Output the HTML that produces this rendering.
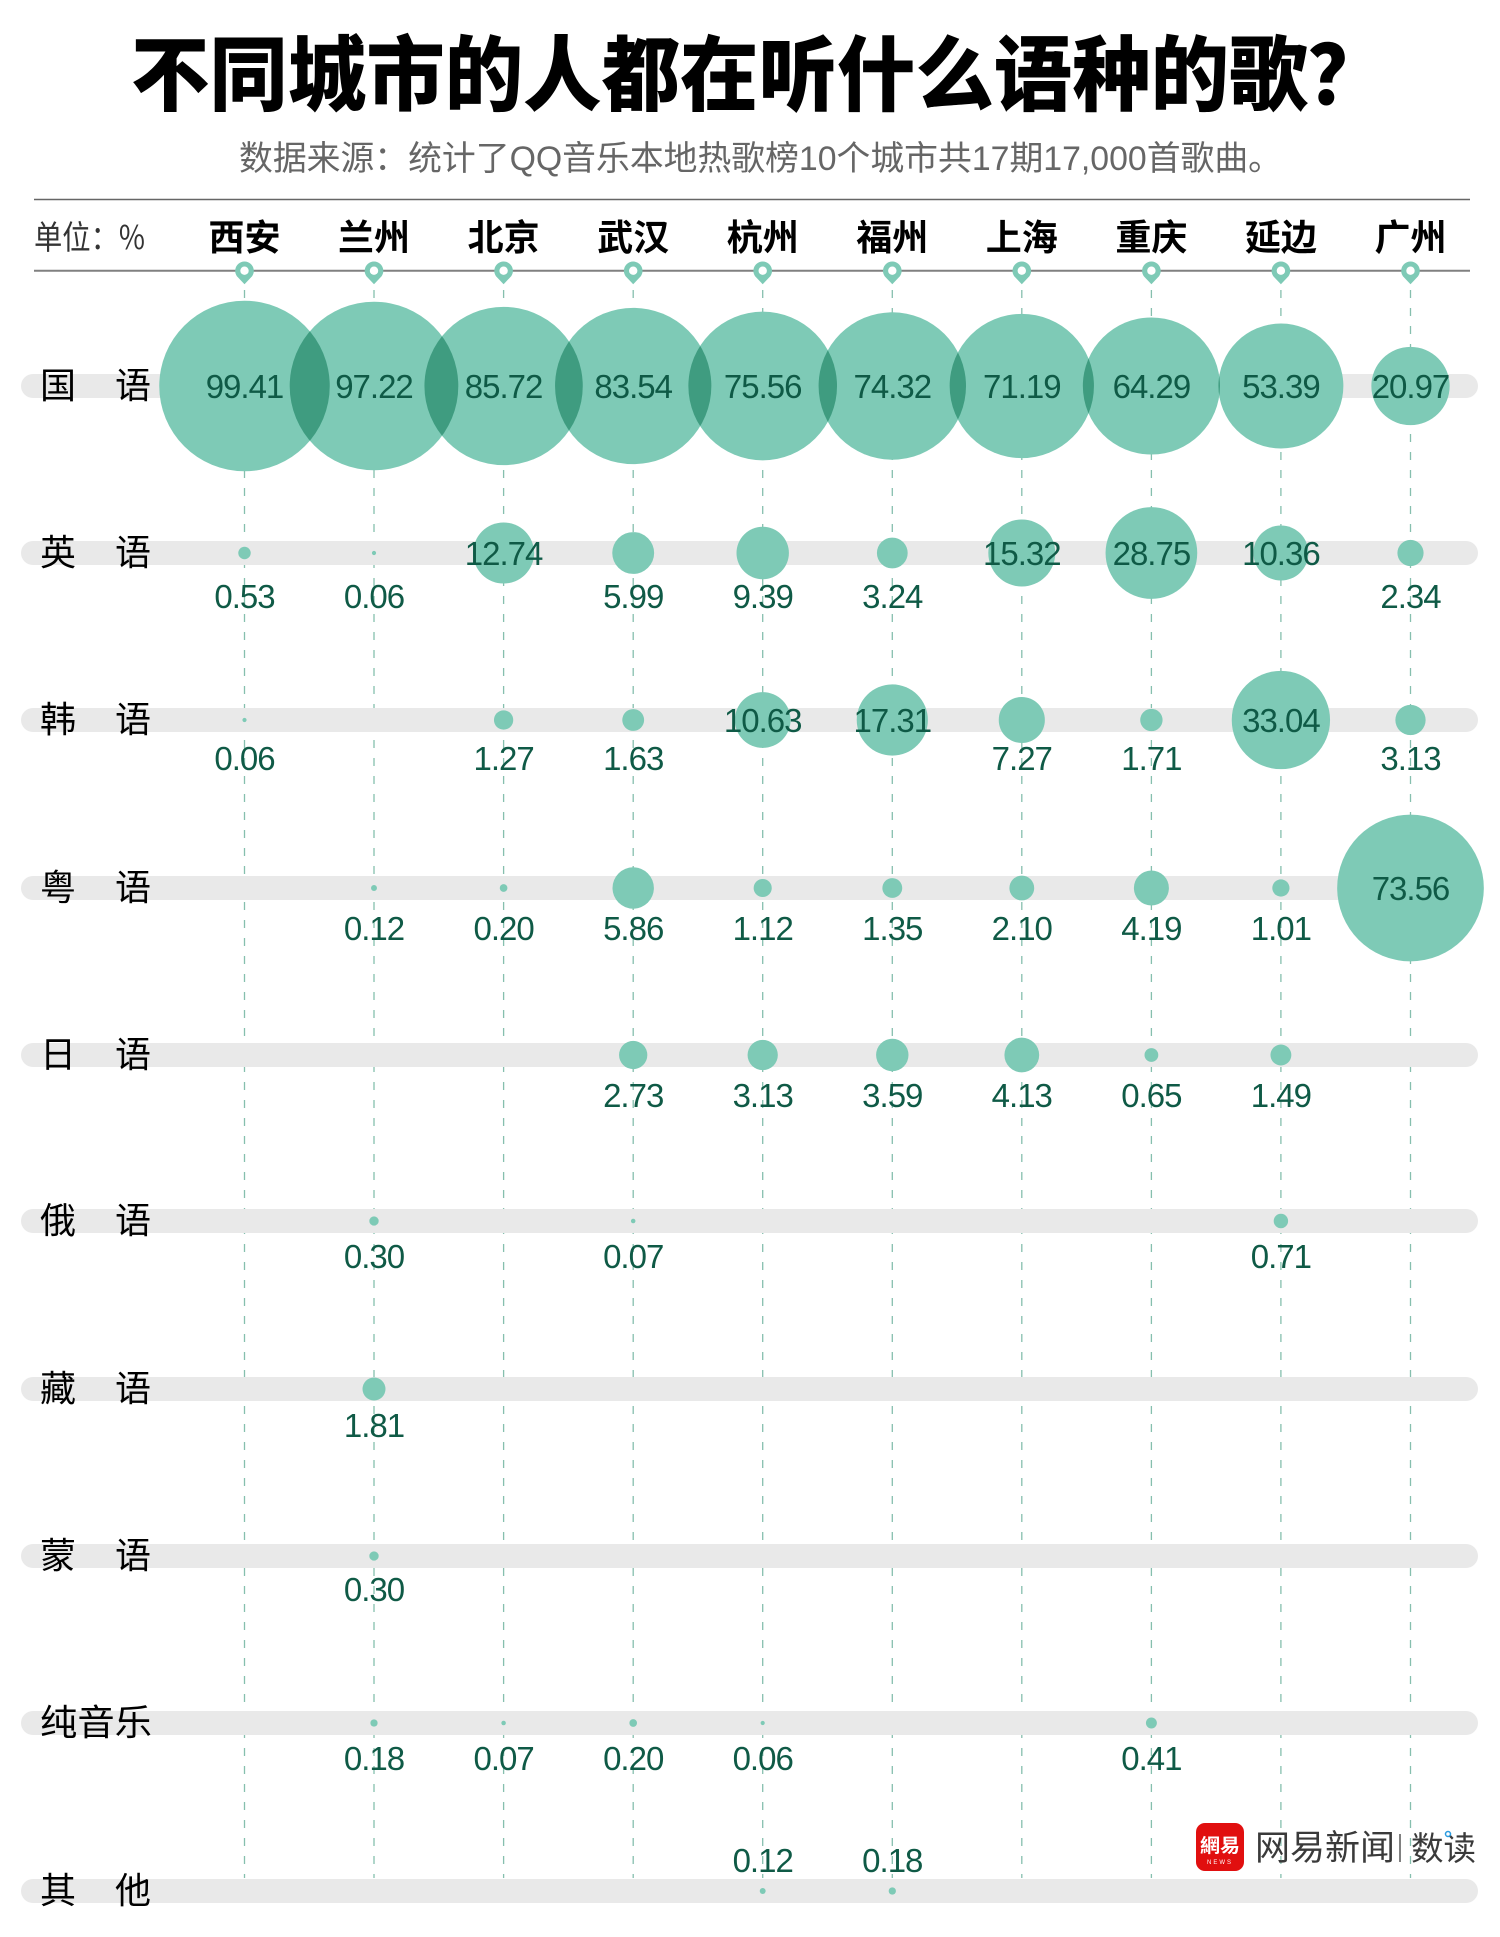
<!DOCTYPE html>
<html><head><meta charset="utf-8"><style>
html,body{margin:0;padding:0;background:#fff;}
svg{display:block;}
.cj{font-family:"Noto Sans CJK SC","WenQuanYi Zen Hei",sans-serif;}
.num{font-family:"Liberation Sans",sans-serif;font-size:33px;fill:#0f5a46;letter-spacing:-1px;text-anchor:middle;}
.city{font-family:"Noto Sans CJK SC","WenQuanYi Zen Hei",sans-serif;font-size:36px;font-weight:700;fill:#000;text-anchor:middle;}
.rl{font-family:"Noto Sans CJK SC","WenQuanYi Zen Hei",sans-serif;font-size:36px;fill:#000;}
</style></head><body>
<svg width="1500" height="1937" viewBox="0 0 1500 1937" xmlns="http://www.w3.org/2000/svg">
<rect x="0" y="0" width="1500" height="1937" fill="#fff"/>

<!-- Title -->
<text class="cj" x="131" y="104" font-size="82" font-weight="900" fill="#000" textLength="1255" lengthAdjust="spacingAndGlyphs">不同城市的人都在听什么语种的歌？</text>
<text x="239" y="170" font-family="Liberation Sans, Noto Sans CJK SC, sans-serif" font-size="34" fill="#666" textLength="1043" lengthAdjust="spacingAndGlyphs">数据来源：统计了QQ音乐本地热歌榜10个城市共17期17,000首歌曲。</text>

<!-- header lines -->
<line x1="34" y1="199.5" x2="1470" y2="199.5" stroke="#666" stroke-width="1.5"/>
<line x1="34" y1="270.7" x2="1470" y2="270.7" stroke="#808080" stroke-width="2"/>
<text class="cj" x="34" y="249" font-size="33" fill="#333" textLength="111" lengthAdjust="spacingAndGlyphs">单位：%</text>

<g>
<text class="city" x="244.5" y="250">西安</text>
<text class="city" x="374" y="250">兰州</text>
<text class="city" x="503.6" y="250">北京</text>
<text class="city" x="633.2" y="250">武汉</text>
<text class="city" x="762.7" y="250">杭州</text>
<text class="city" x="892.3" y="250">福州</text>
<text class="city" x="1021.8" y="250">上海</text>
<text class="city" x="1151.4" y="250">重庆</text>
<text class="city" x="1280.9" y="250">延边</text>
<text class="city" x="1410.5" y="250">广州</text>
</g>

<!-- pins -->
<defs>
<g id="pin">
<path d="M0,284.3 L-7.6,276.2 A9.3,9.3 0 1 1 7.6,276.2 Z" fill="#7ecab6"/>
<circle cx="0" cy="270.7" r="4.2" fill="#fff"/>
</g>
</defs>
<use href="#pin" x="244.5"/>
<use href="#pin" x="374"/>
<use href="#pin" x="503.6"/>
<use href="#pin" x="633.2"/>
<use href="#pin" x="762.7"/>
<use href="#pin" x="892.3"/>
<use href="#pin" x="1021.8"/>
<use href="#pin" x="1151.4"/>
<use href="#pin" x="1280.9"/>
<use href="#pin" x="1410.5"/>

<!-- dashed lines -->
<g stroke="#86bfae" stroke-width="1.3" stroke-dasharray="8 10">
<line x1="244.5" y1="290" x2="244.5" y2="1878"/>
<line x1="374" y1="290" x2="374" y2="1878"/>
<line x1="503.6" y1="290" x2="503.6" y2="1878"/>
<line x1="633.2" y1="290" x2="633.2" y2="1878"/>
<line x1="762.7" y1="290" x2="762.7" y2="1878"/>
<line x1="892.3" y1="290" x2="892.3" y2="1878"/>
<line x1="1021.8" y1="290" x2="1021.8" y2="1878"/>
<line x1="1151.4" y1="290" x2="1151.4" y2="1878"/>
<line x1="1280.9" y1="290" x2="1280.9" y2="1878"/>
<line x1="1410.5" y1="290" x2="1410.5" y2="1878"/>
</g>

<!-- bars -->
<g fill="#e9e9e9">
<rect x="21" y="374" width="1457" height="24" rx="12"/>
<rect x="21" y="541" width="1457" height="24" rx="12"/>
<rect x="21" y="708" width="1457" height="24" rx="12"/>
<rect x="21" y="876" width="1457" height="24" rx="12"/>
<rect x="21" y="1043" width="1457" height="24" rx="12"/>
<rect x="21" y="1209" width="1457" height="24" rx="12"/>
<rect x="21" y="1377" width="1457" height="24" rx="12"/>
<rect x="21" y="1544" width="1457" height="24" rx="12"/>
<rect x="21" y="1711" width="1457" height="24" rx="12"/>
<rect x="21" y="1879" width="1457" height="24" rx="12"/>
</g>

<!-- row labels -->
<g>
<text class="rl" x="40" y="398">国</text><text class="rl" x="115" y="398">语</text>
<text class="rl" x="40" y="565">英</text><text class="rl" x="115" y="565">语</text>
<text class="rl" x="40" y="732">韩</text><text class="rl" x="115" y="732">语</text>
<text class="rl" x="40" y="900">粤</text><text class="rl" x="115" y="900">语</text>
<text class="rl" x="40" y="1067">日</text><text class="rl" x="115" y="1067">语</text>
<text class="rl" x="40" y="1233">俄</text><text class="rl" x="115" y="1233">语</text>
<text class="rl" x="40" y="1401">藏</text><text class="rl" x="115" y="1401">语</text>
<text class="rl" x="40" y="1568">蒙</text><text class="rl" x="115" y="1568">语</text>
<text class="rl" x="40" y="1735" textLength="112" lengthAdjust="spacingAndGlyphs">纯音乐</text>
<text class="rl" x="40" y="1903">其</text><text class="rl" x="115" y="1903">他</text>
</g>

<!-- circles -->
<defs>
<clipPath id="k0"><circle cx="244.5" cy="386" r="85.25"/></clipPath>
<clipPath id="k1"><circle cx="374" cy="386" r="84.30"/></clipPath>
<clipPath id="k2"><circle cx="503.6" cy="386" r="79.16"/></clipPath>
<clipPath id="k3"><circle cx="633.2" cy="386" r="78.15"/></clipPath>
<clipPath id="k4"><circle cx="762.7" cy="386" r="74.32"/></clipPath>
<clipPath id="k5"><circle cx="892.3" cy="386" r="73.71"/></clipPath>
<clipPath id="k6"><circle cx="1021.8" cy="386" r="72.14"/></clipPath>
<clipPath id="k7"><circle cx="1151.4" cy="386" r="68.55"/></clipPath>
</defs>
<g fill="#7ecab6">
<!-- row 0 -->
<circle cx="244.5" cy="386" r="85.25"/>
<circle cx="374" cy="386" r="84.30"/>
<circle cx="503.6" cy="386" r="79.16"/>
<circle cx="633.2" cy="386" r="78.15"/>
<circle cx="762.7" cy="386" r="74.32"/>
<circle cx="892.3" cy="386" r="73.71"/>
<circle cx="1021.8" cy="386" r="72.14"/>
<circle cx="1151.4" cy="386" r="68.55"/>
<circle cx="1280.9" cy="386" r="62.47"/>
<circle cx="1410.5" cy="386" r="39.15"/>
<!-- row 1 -->
<circle cx="244.5" cy="553" r="6.22"/>
<circle cx="374" cy="553" r="2.09"/>
<circle cx="503.6" cy="553" r="30.52"/>
<circle cx="633.2" cy="553" r="20.93"/>
<circle cx="762.7" cy="553" r="26.20"/>
<circle cx="892.3" cy="553" r="15.39"/>
<circle cx="1021.8" cy="553" r="33.47"/>
<circle cx="1151.4" cy="553" r="45.84"/>
<circle cx="1280.9" cy="553" r="27.52"/>
<circle cx="1410.5" cy="553" r="13.08"/>
<!-- row 2 -->
<circle cx="244.5" cy="720" r="2.09"/>
<circle cx="503.6" cy="720" r="9.64"/>
<circle cx="633.2" cy="720" r="10.92"/>
<circle cx="762.7" cy="720" r="27.88"/>
<circle cx="892.3" cy="720" r="35.57"/>
<circle cx="1021.8" cy="720" r="23.05"/>
<circle cx="1151.4" cy="720" r="11.18"/>
<circle cx="1280.9" cy="720" r="49.15"/>
<circle cx="1410.5" cy="720" r="15.13"/>
<!-- row 3 -->
<circle cx="374" cy="888" r="2.96"/>
<circle cx="503.6" cy="888" r="3.82"/>
<circle cx="633.2" cy="888" r="20.70"/>
<circle cx="762.7" cy="888" r="9.05"/>
<circle cx="892.3" cy="888" r="9.93"/>
<circle cx="1021.8" cy="888" r="12.39"/>
<circle cx="1151.4" cy="888" r="17.50"/>
<circle cx="1280.9" cy="888" r="8.59"/>
<circle cx="1410.5" cy="888" r="73.33"/>
<!-- row 4 -->
<circle cx="633.2" cy="1055" r="14.13"/>
<circle cx="762.7" cy="1055" r="15.13"/>
<circle cx="892.3" cy="1055" r="16.20"/>
<circle cx="1021.8" cy="1055" r="17.38"/>
<circle cx="1151.4" cy="1055" r="6.89"/>
<circle cx="1280.9" cy="1055" r="10.44"/>
<!-- row 5 -->
<circle cx="374" cy="1221" r="4.68"/>
<circle cx="633.2" cy="1221" r="2.26"/>
<circle cx="1280.9" cy="1221" r="7.20"/>
<!-- row 6 -->
<circle cx="374" cy="1389" r="11.50"/>
<!-- row 7 -->
<circle cx="374" cy="1556" r="4.68"/>
<!-- row 8 -->
<circle cx="374" cy="1723" r="3.63"/>
<circle cx="503.6" cy="1723" r="2.26"/>
<circle cx="633.2" cy="1723" r="3.82"/>
<circle cx="762.7" cy="1723" r="2.09"/>
<circle cx="1151.4" cy="1723" r="5.47"/>
<!-- row 9 -->
<circle cx="762.7" cy="1891" r="2.96"/>
<circle cx="892.3" cy="1891" r="3.63"/>
</g>
<!-- overlap lenses -->
<g fill="#3f9c80">
<circle cx="374" cy="386" r="84.30" clip-path="url(#k0)"/>
<circle cx="503.6" cy="386" r="79.16" clip-path="url(#k1)"/>
<circle cx="633.2" cy="386" r="78.15" clip-path="url(#k2)"/>
<circle cx="762.7" cy="386" r="74.32" clip-path="url(#k3)"/>
<circle cx="892.3" cy="386" r="73.71" clip-path="url(#k4)"/>
<circle cx="1021.8" cy="386" r="72.14" clip-path="url(#k5)"/>
<circle cx="1151.4" cy="386" r="68.55" clip-path="url(#k6)"/>
<circle cx="1280.9" cy="386" r="62.47" clip-path="url(#k7)"/>
</g>

<!-- numbers -->
<g>
<!-- row 0 inside -->
<text class="num" x="244.5" y="398">99.41</text>
<text class="num" x="374" y="398">97.22</text>
<text class="num" x="503.6" y="398">85.72</text>
<text class="num" x="633.2" y="398">83.54</text>
<text class="num" x="762.7" y="398">75.56</text>
<text class="num" x="892.3" y="398">74.32</text>
<text class="num" x="1021.8" y="398">71.19</text>
<text class="num" x="1151.4" y="398">64.29</text>
<text class="num" x="1280.9" y="398">53.39</text>
<text class="num" x="1410.5" y="398">20.97</text>
<!-- row 1 -->
<text class="num" x="244.5" y="608">0.53</text>
<text class="num" x="374" y="608">0.06</text>
<text class="num" x="503.6" y="565">12.74</text>
<text class="num" x="633.2" y="608">5.99</text>
<text class="num" x="762.7" y="608">9.39</text>
<text class="num" x="892.3" y="608">3.24</text>
<text class="num" x="1021.8" y="565">15.32</text>
<text class="num" x="1151.4" y="565">28.75</text>
<text class="num" x="1280.9" y="565">10.36</text>
<text class="num" x="1410.5" y="608">2.34</text>
<!-- row 2 -->
<text class="num" x="244.5" y="770">0.06</text>
<text class="num" x="503.6" y="770">1.27</text>
<text class="num" x="633.2" y="770">1.63</text>
<text class="num" x="762.7" y="732">10.63</text>
<text class="num" x="892.3" y="732">17.31</text>
<text class="num" x="1021.8" y="770">7.27</text>
<text class="num" x="1151.4" y="770">1.71</text>
<text class="num" x="1280.9" y="732">33.04</text>
<text class="num" x="1410.5" y="770">3.13</text>
<!-- row 3 -->
<text class="num" x="374" y="940">0.12</text>
<text class="num" x="503.6" y="940">0.20</text>
<text class="num" x="633.2" y="940">5.86</text>
<text class="num" x="762.7" y="940">1.12</text>
<text class="num" x="892.3" y="940">1.35</text>
<text class="num" x="1021.8" y="940">2.10</text>
<text class="num" x="1151.4" y="940">4.19</text>
<text class="num" x="1280.9" y="940">1.01</text>
<text class="num" x="1410.5" y="900">73.56</text>
<!-- row 4 -->
<text class="num" x="633.2" y="1107">2.73</text>
<text class="num" x="762.7" y="1107">3.13</text>
<text class="num" x="892.3" y="1107">3.59</text>
<text class="num" x="1021.8" y="1107">4.13</text>
<text class="num" x="1151.4" y="1107">0.65</text>
<text class="num" x="1280.9" y="1107">1.49</text>
<!-- row 5 -->
<text class="num" x="374" y="1268">0.30</text>
<text class="num" x="633.2" y="1268">0.07</text>
<text class="num" x="1280.9" y="1268">0.71</text>
<!-- row 6 -->
<text class="num" x="374" y="1437">1.81</text>
<!-- row 7 -->
<text class="num" x="374" y="1601">0.30</text>
<!-- row 8 -->
<text class="num" x="374" y="1770">0.18</text>
<text class="num" x="503.6" y="1770">0.07</text>
<text class="num" x="633.2" y="1770">0.20</text>
<text class="num" x="762.7" y="1770">0.06</text>
<text class="num" x="1151.4" y="1770">0.41</text>
<!-- row 9 (above) -->
<text class="num" x="762.7" y="1872">0.12</text>
<text class="num" x="892.3" y="1872">0.18</text>
</g>

<!-- logo -->
<g>
<rect x="1196" y="1823" width="48" height="48" rx="9" fill="#e10f0f"/>
<text class="cj" x="1220" y="1852" font-size="19" font-weight="700" fill="#fff" text-anchor="middle" textLength="40" lengthAdjust="spacingAndGlyphs">網易</text>
<text x="1220" y="1864" font-family="Liberation Sans, sans-serif" font-size="6" fill="#fff" text-anchor="middle" letter-spacing="2">NEWS</text>
<text class="cj" x="1255" y="1860" font-size="35" fill="#3a3a3a" textLength="140" lengthAdjust="spacingAndGlyphs">网易新闻</text>
<line x1="1400" y1="1834" x2="1400" y2="1862" stroke="#555" stroke-width="1.5"/>
<text class="cj" x="1411" y="1860" font-size="33" fill="#3a3a3a" textLength="65" lengthAdjust="spacingAndGlyphs">数读</text>
<circle cx="1448" cy="1834" r="2.5" fill="#fff" stroke="#2a9be0" stroke-width="1.5"/>
</g>
</svg>
</body></html>
